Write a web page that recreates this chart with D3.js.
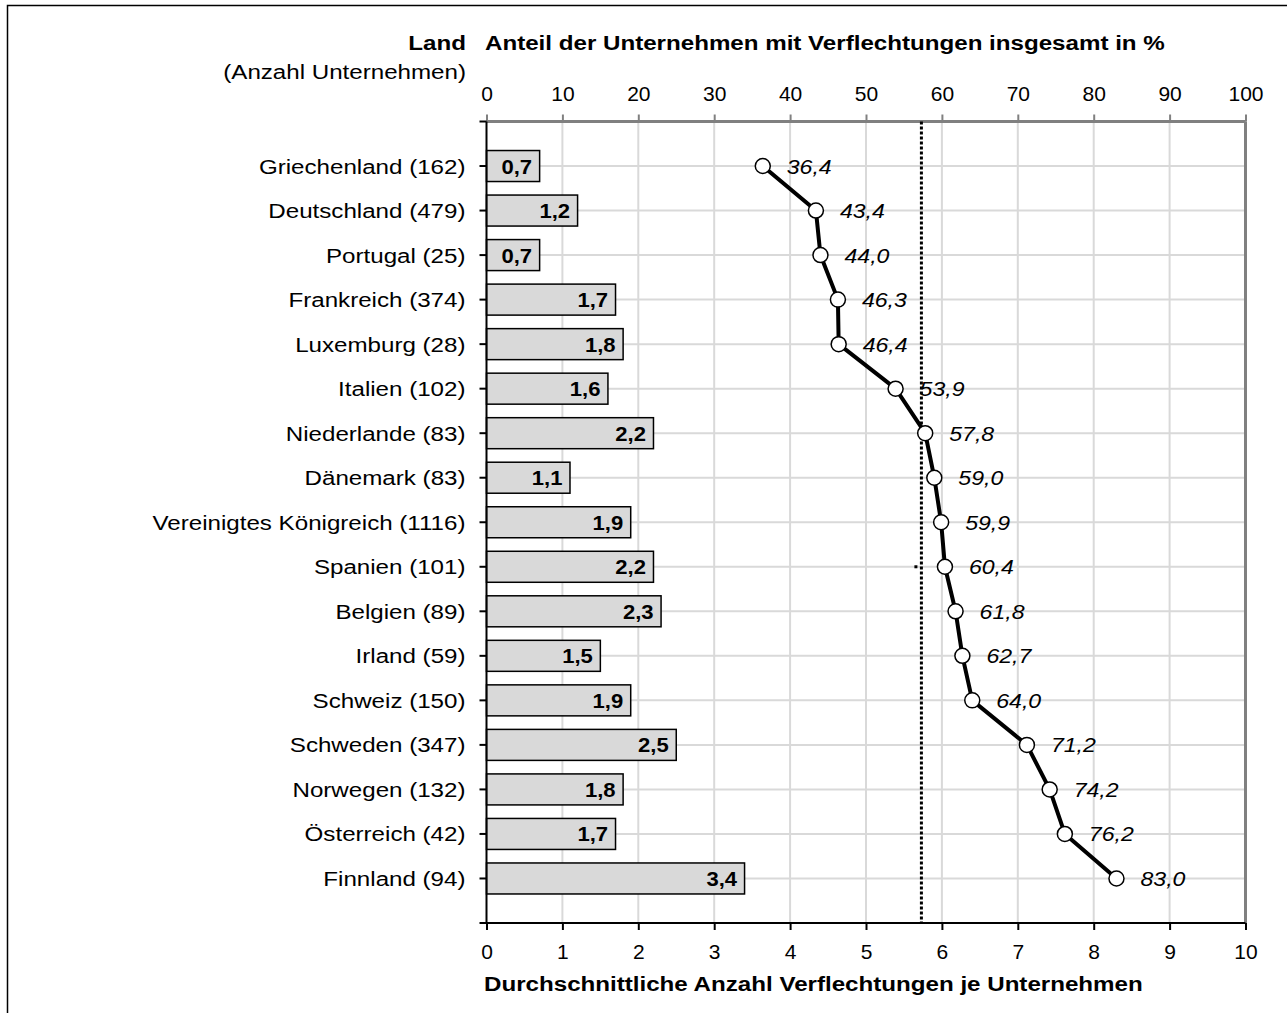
<!DOCTYPE html>
<html>
<head>
<meta charset="utf-8">
<script src="https://cdn.jsdelivr.net/npm/d3@7"></script>
<style>
	body { margin: 0; background: #fff; }
	svg { display: block; font-family: Arial, "Liberation Sans", sans-serif; }
	.grid line { stroke: #d9d9d9; stroke-width: 2; }
	.catlabel { font-size: 21px; fill: #000; }
	.ticklabel { font-size: 21px; fill: #000; }
	.title { font-size: 21px; font-weight: bold; fill: #000; }
	.barlabel { font-size: 21px; font-weight: bold; fill: #000; }
	.ptlabel { font-size: 21px; font-style: italic; fill: #000; }
</style>
</head>
<body>
<svg id="chart" width="1287" height="1013"></svg>
<script>
/* Verflechtungen je Land: Balken (Durchschnitt) und Linie (Anteil in %) */

var countries = ["Griechenland (162)", "Deutschland (479)", "Portugal (25)", "Frankreich (374)",
	"Luxemburg (28)", "Italien (102)", "Niederlande (83)", "Dänemark (83)",
	"Vereinigtes Königreich (1116)", "Spanien (101)", "Belgien (89)", "Irland (59)",
	"Schweiz (150)", "Schweden (347)", "Norwegen (132)", "Österreich (42)", "Finnland (94)"];

// Durchschnittliche Anzahl Verflechtungen je Unternehmen
var avgLinks = [0.7, 1.2, 0.7, 1.7, 1.8, 1.6, 2.2, 1.1, 1.9, 2.2, 2.3, 1.5, 1.9, 2.5, 1.8, 1.7, 3.4];

// Anteil der Unternehmen mit Verflechtungen in %
var shareLinked = [36.4, 43.4, 44.0, 46.3, 46.4, 53.9, 57.8, 59.0, 59.9, 60.4, 61.8, 62.7, 64.0, 71.2, 74.2, 76.2, 83.0];

// Durchschnitt aller Unternehmen (gepunktete Linie, in %)
var overallShare = 57.3;

var bottomTicks = [0, 1, 2, 3, 4, 5, 6, 7, 8, 9, 10];
var topTicks = [0, 10, 20, 30, 40, 50, 60, 70, 80, 90, 100];

var fmt = function(v) { return d3.format(".1f")(v).replace(".", ","); };

// the original text is drawn a bit wider than Arial, so stretch it horizontally
function place(sel, fx, fy, sx) {
	sel.attr("x", 0).attr("y", 0)
		.attr("transform", function(d, i) {
			return "translate(" + fx(d, i) + "," + fy(d, i) + ") scale(" + sx + ",1)";
		});
}

var svg = d3.select("#chart");

var margin = {top: 121.5, left: 486.5},
	width = 759,
	height = 801.5;

var xAvg = d3.scaleLinear().domain([0, 10]).range([0, width]);
var xPct = d3.scaleLinear().domain([0, 100]).range([0, width]);
// rows sit at 1..17, axis ends at 0 and 18
var y = d3.scaleLinear().domain([0, countries.length + 1]).range([0, height]);
var rowY = function(d, i) { return y(i + 1); };
var barH = 31;

// outer frame
svg.append("rect")
	.attr("x", 7.5).attr("y", 5.5)
	.attr("width", 1300).attr("height", 1030)
	.attr("fill", "none")
	.attr("stroke", "#000")
	.attr("stroke-width", 1.5);

var chart = svg.append("g")
	.attr("transform", "translate(" + margin.left + "," + margin.top + ")");

// gridlines
var grid = chart.append("g").attr("class", "grid");
grid.selectAll(".vg")
	.data(bottomTicks.slice(1, -1))
  .enter().append("line")
	.attr("x1", function(d) { return xAvg(d); })
	.attr("x2", function(d) { return xAvg(d); })
	.attr("y1", 0).attr("y2", height);
grid.selectAll(".hg")
	.data(countries)
  .enter().append("line")
	.attr("x1", 0).attr("x2", width)
	.attr("y1", rowY).attr("y2", rowY);

// Bars
chart.selectAll(".bar")
	.data(avgLinks)
  .enter().append("rect")
	.attr("class", "bar")
	.attr("x", 0)
	.attr("y", function(d, i) { return rowY(d, i) - barH / 2; })
	.attr("width", function(d) { return xAvg(d); })
	.attr("height", barH)
	.attr("fill", "#d9d9d9")
	.attr("stroke", "#000")
	.attr("stroke-width", 1.5);

chart.selectAll(".barlabel")
	.data(avgLinks)
  .enter().append("text")
	.attr("class", "barlabel")
	.attr("text-anchor", "end")
	.text(fmt)
	.call(place, function(d) { return xAvg(d) - 7.5; },
		function(d, i) { return rowY(d, i) + 7.5; }, 1.05);

// Top axis (percent)
var topAxis = d3.axisTop(xPct).tickValues(topTicks).tickSize(7).tickFormat(d3.format("d"));
var gTop = chart.append("g").call(topAxis);
gTop.select(".domain").attr("stroke", "#808080").attr("stroke-width", 3).attr("d", "M0,0H" + width);
gTop.selectAll(".tick line").attr("stroke", "#808080").attr("stroke-width", 2);
gTop.selectAll(".tick text").attr("class", "ticklabel").attr("y", -21);
gTop.attr("font-size", null).attr("font-family", null);

// right border
chart.append("line")
	.attr("x1", width).attr("x2", width)
	.attr("y1", 0).attr("y2", height)
	.attr("stroke", "#808080").attr("stroke-width", 3);

// Bottom axis (average)
var bottomAxis = d3.axisBottom(xAvg).tickValues(bottomTicks).tickSize(7).tickFormat(d3.format("d"));
var gBot = chart.append("g").attr("transform", "translate(0," + height + ")").call(bottomAxis);
gBot.select(".domain").attr("stroke", "#000").attr("stroke-width", 2).attr("d", "M0,0H" + width);
gBot.selectAll(".tick line").attr("stroke", "#000").attr("stroke-width", 2);
gBot.selectAll(".tick text").attr("class", "ticklabel").attr("y", 21);
gBot.attr("font-size", null).attr("font-family", null);

// Left axis with category labels
var leftTicks = d3.range(0, countries.length + 2);
var gLeft = chart.append("g");
gLeft.append("line")
	.attr("x1", 0).attr("x2", 0).attr("y1", 0).attr("y2", height)
	.attr("stroke", "#000").attr("stroke-width", 2);
gLeft.selectAll(".lt")
	.data(leftTicks)
  .enter().append("line")
	.attr("x1", -7).attr("x2", 0)
	.attr("y1", function(d) { return y(d); })
	.attr("y2", function(d) { return y(d); })
	.attr("stroke", "#000").attr("stroke-width", 2);
gLeft.selectAll(".catlabel")
	.data(countries)
  .enter().append("text")
	.attr("class", "catlabel")
	.attr("text-anchor", "end")
	.text(function(d) { return d; })
	.call(place, function() { return -21; },
		function(d, i) { return rowY(d, i) + 7.5; }, 1.15);

// Dotted average line
chart.append("line")
	.attr("x1", xPct(overallShare)).attr("x2", xPct(overallShare))
	.attr("y1", 0).attr("y2", height)
	.attr("stroke", "#000")
	.attr("stroke-width", 3)
	.attr("stroke-dasharray", "3,2");
chart.append("rect")
	.attr("x", xPct(overallShare) - 7).attr("y", rowY(null, 9) - 1.5)
	.attr("width", 3).attr("height", 3).attr("fill", "#000");

// Line + points
var line = d3.line()
	.x(function(d) { return xPct(d); })
	.y(function(d, i) { return rowY(d, i); });

chart.append("path")
	.datum(shareLinked)
	.attr("d", line)
	.attr("fill", "none")
	.attr("stroke", "#000")
	.attr("stroke-width", 4)
	.attr("stroke-linejoin", "round");

chart.selectAll(".pt")
	.data(shareLinked)
  .enter().append("circle")
	.attr("cx", function(d) { return xPct(d); })
	.attr("cy", rowY)
	.attr("r", 7.5)
	.attr("fill", "#fff")
	.attr("stroke", "#000")
	.attr("stroke-width", 1.5);

chart.selectAll(".ptlabel")
	.data(shareLinked)
  .enter().append("text")
	.attr("class", "ptlabel")
	.text(fmt)
	.call(place, function(d) { return xPct(d) + 24; },
		function(d, i) { return rowY(d, i) + 7.5; }, 1.1);

// Titles
var titles = [
	{text: "Land", x: 466, y: 50, cls: "title", anchor: "end"},
	{text: "(Anzahl Unternehmen)", x: 466, y: 79, cls: "catlabel", anchor: "end"},
	{text: "Anteil der Unternehmen mit Verflechtungen insgesamt in %", x: 485, y: 50, cls: "title", anchor: "start"},
	{text: "Durchschnittliche Anzahl Verflechtungen je Unternehmen", x: 484, y: 991, cls: "title", anchor: "start"}
];
svg.selectAll(".ttl")
	.data(titles)
  .enter().append("text")
	.attr("class", function(d) { return d.cls; })
	.attr("text-anchor", function(d) { return d.anchor; })
	.text(function(d) { return d.text; })
	.call(place, function(d) { return d.x; }, function(d) { return d.y; }, 1.15);
</script>
</body>
</html>
